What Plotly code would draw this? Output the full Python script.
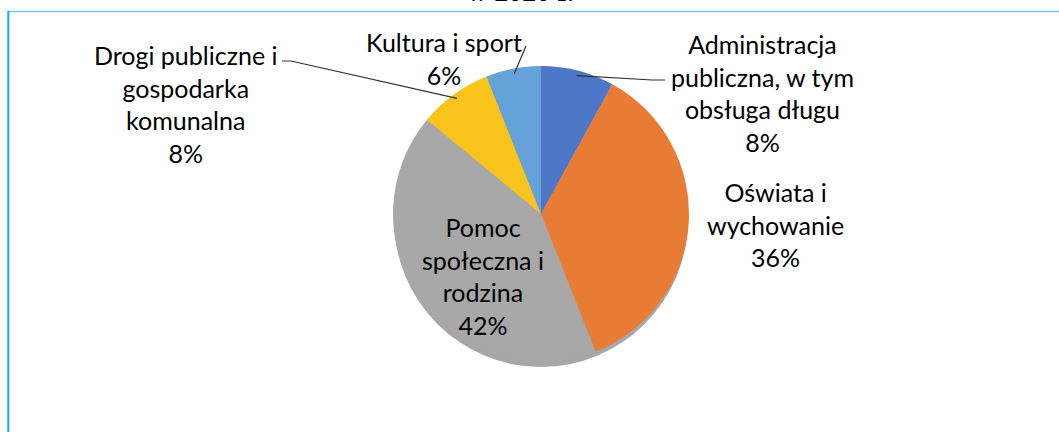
import math
import plotly.graph_objects as go

labels = ["Administracja<br>publiczna, w tym<br>obsługa długu",
          "Oświata i<br>wychowanie",
          "Pomoc<br>społeczna i<br>rodzina",
          "Drogi publiczne i<br>gospodarka<br>komunalna",
          "Kultura i sport"]
values = [8, 36, 42, 8, 6]
colors = ["#4F77C8", "#E97C35", "#A8A8A8", "#F8C31C", "#64A2D9"]

W, H = 1059, 432
cx, cy, R = 541, 214, 148   # pie centre / radius in pixels


def px(x):
    return x / W


def py(y):
    return 1 - y / H


fig = go.Figure(go.Pie(
    labels=labels, values=values, sort=False, direction="clockwise", rotation=0,
    marker=dict(colors=colors, line=dict(width=0)),
    textinfo="none", hoverinfo="label+percent",
    domain=dict(x=[px(cx - R), px(cx + R)], y=[py(cy + R), py(cy - R)]),
    showlegend=False,
))

font = dict(family="Lato", size=25, color="#000000")

# label blocks (centre positions in pixels)
label_pos = [(762, 93), (775, 224), (483, 276), (186, 104), (444, 58)]
ann = []
total = sum(values)
for lab, v, (lx, ly) in zip(labels, values, label_pos):
    ann.append(dict(text=f"{lab}<br>{round(100 * v / total)}%", x=px(lx), y=py(ly),
                    xref="paper", yref="paper", showarrow=False, font=font,
                    xanchor="center", yanchor="middle", align="center"))

# title, cut at top of the picture
ann.append(dict(text="<b>w 2020 r.</b>", x=px(520), y=py(-9), xref="paper", yref="paper",
                showarrow=False, xanchor="center", yanchor="middle",
                font=dict(family="Liberation Serif", size=28, color="#000000")))

# slice mid angles -> leader line anchors on the pie
mid = []
acc = 0
for v in values:
    mid.append((acc + v / 2) / total * 2 * math.pi)
    acc += v


def edge(i, r=0.965):
    a = mid[i]
    return cx + r * R * math.sin(a), cy - r * R * math.cos(a)


shapes = []
# shadow under the pie
shapes.append(dict(type="circle", xref="paper", yref="paper", layer="below",
                   x0=px(cx - R + 1), x1=px(cx + R - 1), y0=py(cy + R + 5), y1=py(cy - R + 5),
                   fillcolor="rgba(60,60,60,0.45)", line=dict(width=0)))

leaders = {0: [(652, 80), (665, 80)], 4: [(526, 46)], 3: [(291, 61), (282, 61)]}
for i, pts in leaders.items():
    x0, y0 = edge(i)
    path = f"M {px(x0)},{py(y0)}" + "".join(f" L {px(x)},{py(y)}" for x, y in pts)
    shapes.append(dict(type="path", xref="paper", yref="paper", path=path,
                       line=dict(color="#303030", width=1.2)))

# frame lines
shapes.append(dict(type="line", xref="paper", yref="paper", x0=px(8), x1=1, y0=py(11.5), y1=py(11.5),
                   line=dict(color="#78C6F3", width=1.5)))
shapes.append(dict(type="line", xref="paper", yref="paper", x0=px(8.3), x1=px(8.3), y0=py(11), y1=0,
                   line=dict(color="#00B0F0", width=2)))

fig.update_layout(width=W, height=H, margin=dict(l=0, r=0, t=0, b=0),
                  paper_bgcolor="white", plot_bgcolor="white",
                  annotations=ann, shapes=shapes)

fig.write_html("out.html", config={"displayModeBar": False},
               post_script="document.body.style.margin='0px';")
